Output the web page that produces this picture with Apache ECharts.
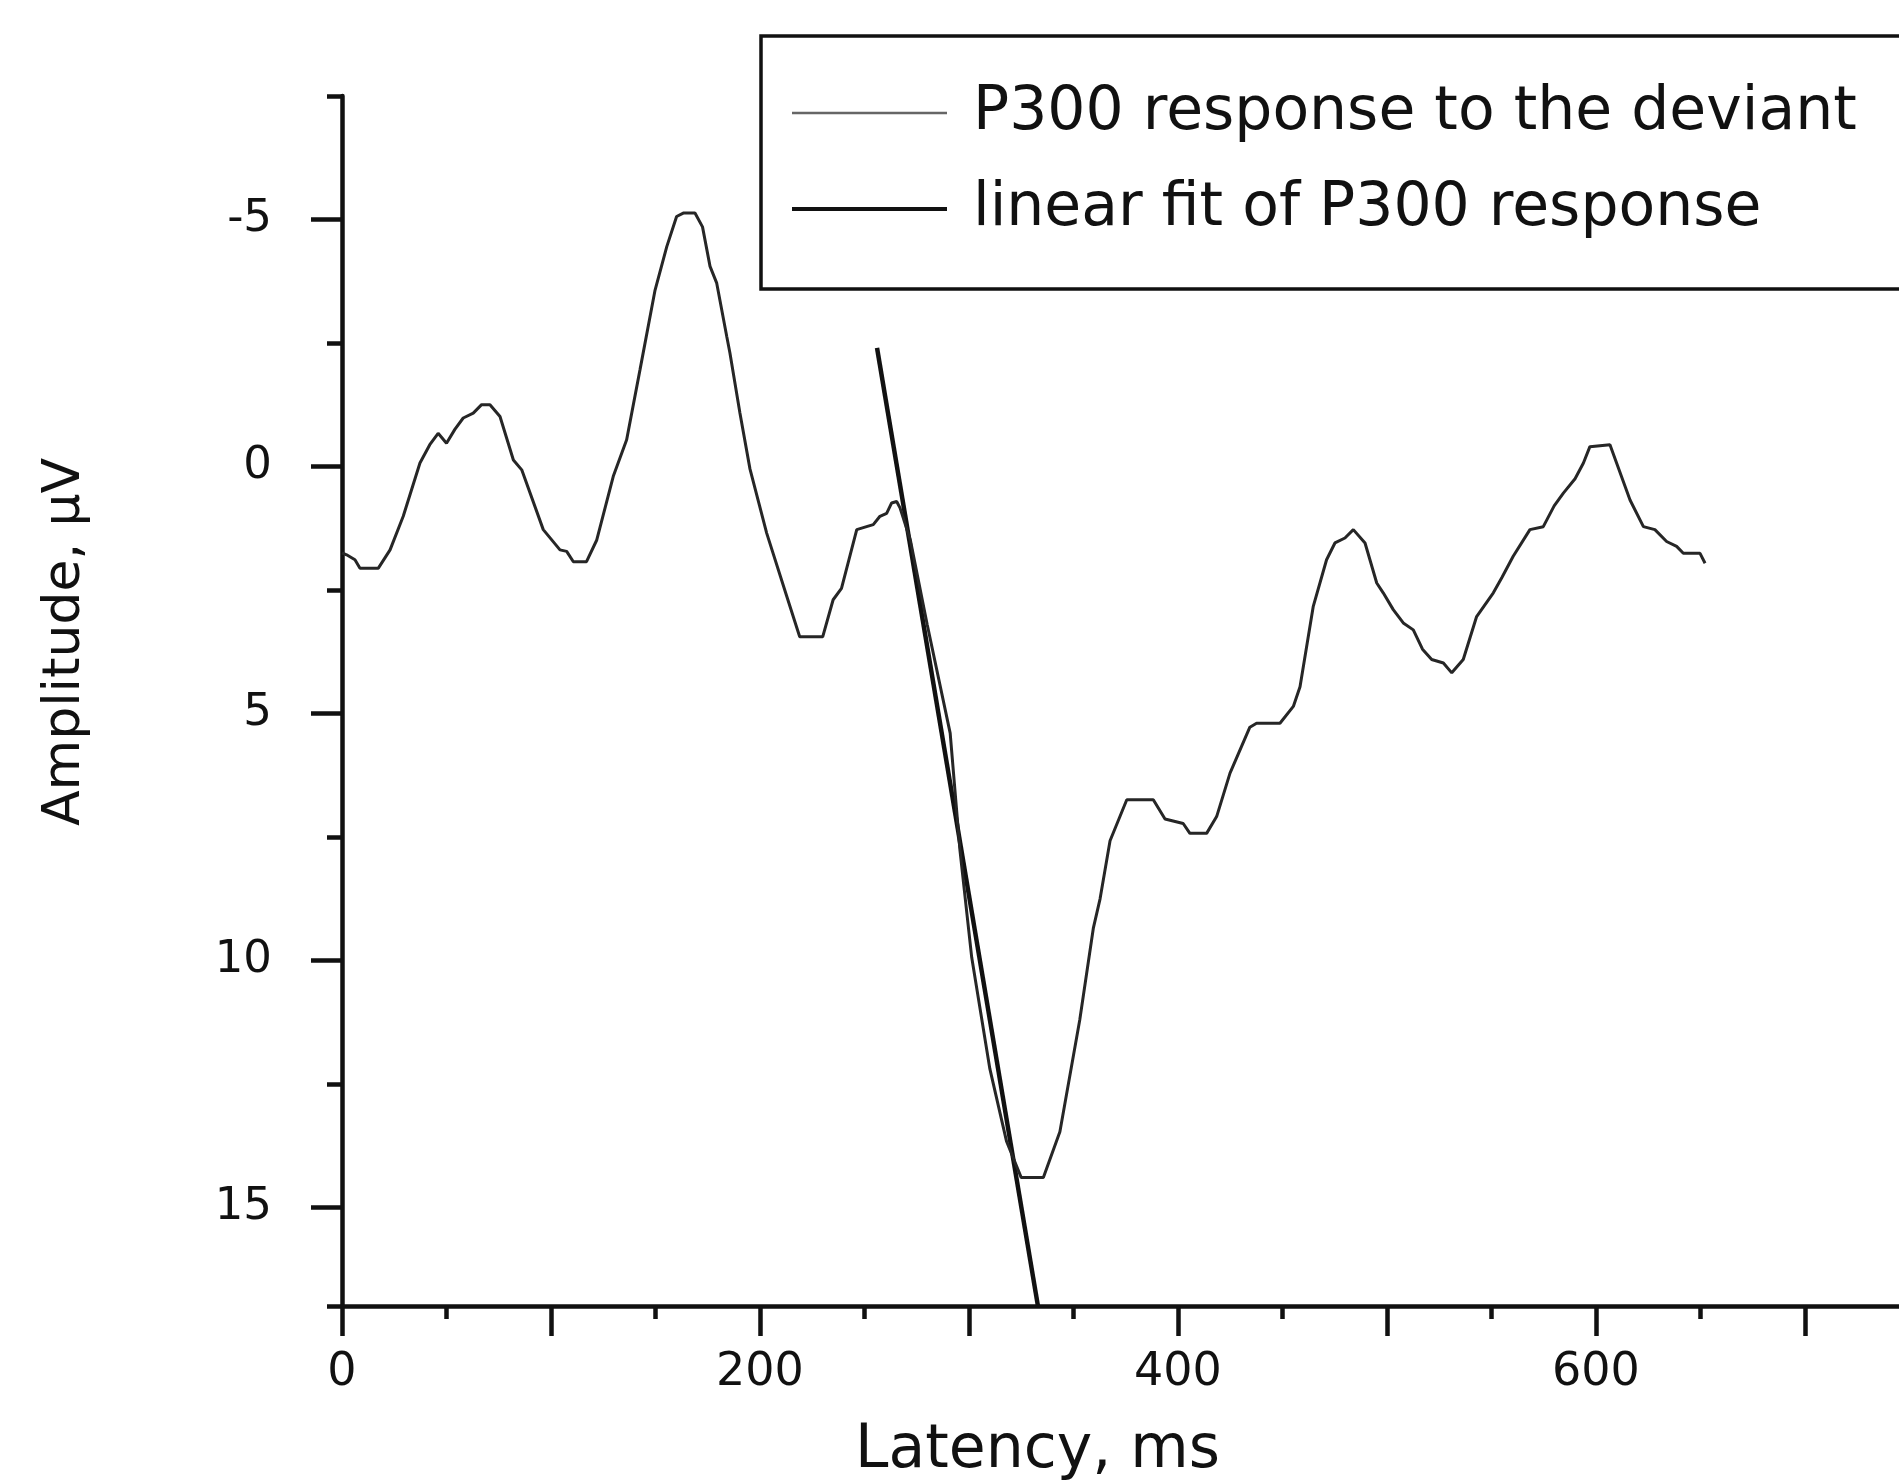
<!DOCTYPE html>
<html>
<head>
<meta charset="utf-8">
<title>P300 response</title>
<script src="https://cdn.jsdelivr.net/npm/echarts@6/dist/echarts.min.js"></script>
<style>
  html, body { margin: 0; padding: 0; background: #fff; }
  #main { width: 1899px; height: 1480px; }
</style>
</head>
<body>
<div id="main"></div>
<script>
// latency in ms, amplitude in uV (axis is drawn negative-up)
var responseMs = [
  0, 2.2, 6.2, 8.6, 17.4, 23, 29.3, 37.3, 42, 46, 50, 54, 58, 62.8, 66.8, 70.8,
  75.6, 82, 86, 96.3, 104.3, 107.5, 110.7, 117, 121.9, 129.8, 136.2, 142.6, 149.8,
  155.4, 160.1, 163.3, 168.9, 172.5, 176.1, 179.3, 184.1, 185.6, 190.4, 195.2,
  203.2, 212.8, 219, 230, 235, 239, 246.3, 251, 254.2, 257.4, 260.6, 263, 265.4,
  267, 272, 280, 291, 295.7, 301.3, 310, 318, 325, 335.6, 343.5, 353, 359.5,
  362.7, 367.5, 375.5, 388.2, 393.8, 402.5, 405.7, 413.7, 418.5, 424.9, 434.4,
  437.6, 448.8, 455.2, 458.4, 464.7, 471.1, 475.1, 479.9, 483.9, 489.5, 495.1,
  498.2, 503, 507.8, 512.6, 517, 521.4, 527, 531, 536.5, 542.9, 550.9, 555,
  560.4, 568.4, 574.8, 580, 584.4, 590, 594, 597.1, 606.7, 616.3, 622.7, 628.2,
  633.8, 638.6, 641.8, 649.8, 652.2
];
var responseUv = [
  1.75, 1.79, 1.89, 2.06, 2.06, 1.69, 1.01, -0.07, -0.44, -0.67, -0.47, -0.75, -0.98, -1.08, -1.25, -1.25,
  -1.01, -0.13, 0.07, 1.28, 1.69, 1.72, 1.93, 1.93, 1.49, 0.2, -0.54, -1.96, -3.57,
  -4.45, -5.06, -5.13, -5.13, -4.85, -4.05, -3.71, -2.63, -2.3, -1.08, 0.05,
  1.35, 2.63, 3.45, 3.45, 2.7, 2.47, 1.28, 1.22, 1.18, 1.01, 0.95, 0.74, 0.71,
  0.84, 1.5, 3.2, 5.4, 7.78, 9.94, 12.2, 13.67, 14.4, 14.4, 13.47, 11.21, 9.35,
  8.76, 7.58, 6.75, 6.75, 7.14, 7.23, 7.43, 7.43, 7.09, 6.21, 5.28,
  5.2, 5.2, 4.86, 4.46, 2.84, 1.89, 1.55, 1.45, 1.28, 1.55, 2.36,
  2.56, 2.9, 3.17, 3.31, 3.7, 3.91, 3.98, 4.18, 3.91, 3.04, 2.56, 2.25,
  1.82, 1.28, 1.22, 0.8, 0.54, 0.25, -0.07, -0.4, -0.44, 0.68, 1.22, 1.28,
  1.52, 1.62, 1.76, 1.76, 1.96
];
var fitMs = [256, 333];
var fitUv = [-2.4, 17];

var xLabels = [0, 200, 400, 600];
var xMajorTicks = [0, 100, 200, 300, 400, 500, 600, 700];
var xMinorTicks = [50, 150, 250, 350, 450, 550, 650];
var yLabels = [-5, 0, 5, 10, 15];

var seriesNames = ['P300 response to the deviant', 'linear fit of P300 response'];

function zip(a, b) {
  var out = [];
  for (var i = 0; i < a.length; i++) out.push([a[i], b[i]]);
  return out;
}

var font = 'DejaVu Sans';
var ink = '#111';
var tickStyle = { color: ink, width: 4.5 };

var myChart = echarts.init(document.getElementById('main'));
var option = {
  backgroundColor: '#fff',
  animation: false,
  legend: {
    orient: 'vertical',
    left: 761,
    top: 36,
    padding: [34, 200, 37, 29],
    itemWidth: 155,
    itemHeight: 1,
    itemGap: 10,
    itemStyle: { opacity: 0 },
    borderColor: ink,
    borderWidth: 3.5,
    textStyle: {
      fontFamily: font,
      fontSize: 60,
      lineHeight: 62,
      color: ink,
      padding: [0, 0, 24, 21]
    },
    data: [
      { name: seriesNames[0], lineStyle: { color: '#666', width: 2.5 } },
      { name: seriesNames[1], lineStyle: { color: ink, width: 4 } }
    ]
  },
  grid: {
    left: 342,
    top: 96,
    right: 0,
    height: 1210,
    containLabel: false,
    outerBoundsMode: 'none'
  },
  xAxis: [
    {
      type: 'value',
      min: 0,
      max: 745,
      interval: 100,
      position: 'bottom',
      name: 'Latency, ms',
      nameLocation: 'middle',
      nameGap: 115,
      nameTextStyle: {
        fontFamily: font,
        fontSize: 60,
        color: ink,
        padding: [0, 166, 0, 0]
      },
      axisLine: { onZero: false, lineStyle: { color: ink, width: 4.5 } },
      axisTick: { length: 30, customValues: xMajorTicks, lineStyle: tickStyle },
      splitLine: { show: false },
      axisLabel: {
        margin: 44,
        fontFamily: font,
        fontSize: 46,
        color: ink,
        showMaxLabel: false,
        formatter: function (v) {
          return xLabels.indexOf(v) >= 0 ? String(v) : '';
        }
      }
    },
    {
      type: 'value',
      min: 0,
      max: 745,
      position: 'bottom',
      offset: 0,
      axisLine: { show: false, onZero: false },
      axisTick: { length: 13, customValues: xMinorTicks, lineStyle: tickStyle },
      axisLabel: { show: false },
      splitLine: { show: false }
    }
  ],
  yAxis: [
    {
      type: 'value',
      inverse: true,
      min: -7.5,
      max: 17,
      interval: 2.5,
      position: 'left',
      name: 'Amplitude, µV',
      nameLocation: 'middle',
      nameGap: 251,
      nameTextStyle: {
        fontFamily: font,
        fontSize: 52,
        color: ink,
        padding: [0, 0, 0, 118]
      },
      axisLine: { onZero: false, lineStyle: { color: ink, width: 4.5 } },
      axisTick: { length: 15, lineStyle: tickStyle },
      splitLine: { show: false },
      axisLabel: {
        margin: 70,
        fontFamily: font,
        fontSize: 45,
        color: ink,
        formatter: function (v) {
          return yLabels.indexOf(v) >= 0 ? String(v) : '';
        }
      }
    },
    {
      type: 'value',
      inverse: true,
      min: -7.5,
      max: 17,
      position: 'left',
      offset: 0,
      axisLine: { show: false, onZero: false },
      axisTick: { length: 31, customValues: yLabels, lineStyle: tickStyle },
      axisLabel: { show: false },
      splitLine: { show: false }
    }
  ],
  series: [
    {
      name: seriesNames[0],
      type: 'line',
      symbol: 'none',
      lineStyle: { color: '#262626', width: 3 },
      itemStyle: { color: '#262626' },
      data: zip(responseMs, responseUv),
      z: 3
    },
    {
      name: seriesNames[1],
      type: 'line',
      symbol: 'none',
      lineStyle: { color: ink, width: 4.5 },
      itemStyle: { color: ink },
      data: zip(fitMs, fitUv),
      z: 2
    }
  ]
};
myChart.setOption(option);
</script>
</body>
</html>
